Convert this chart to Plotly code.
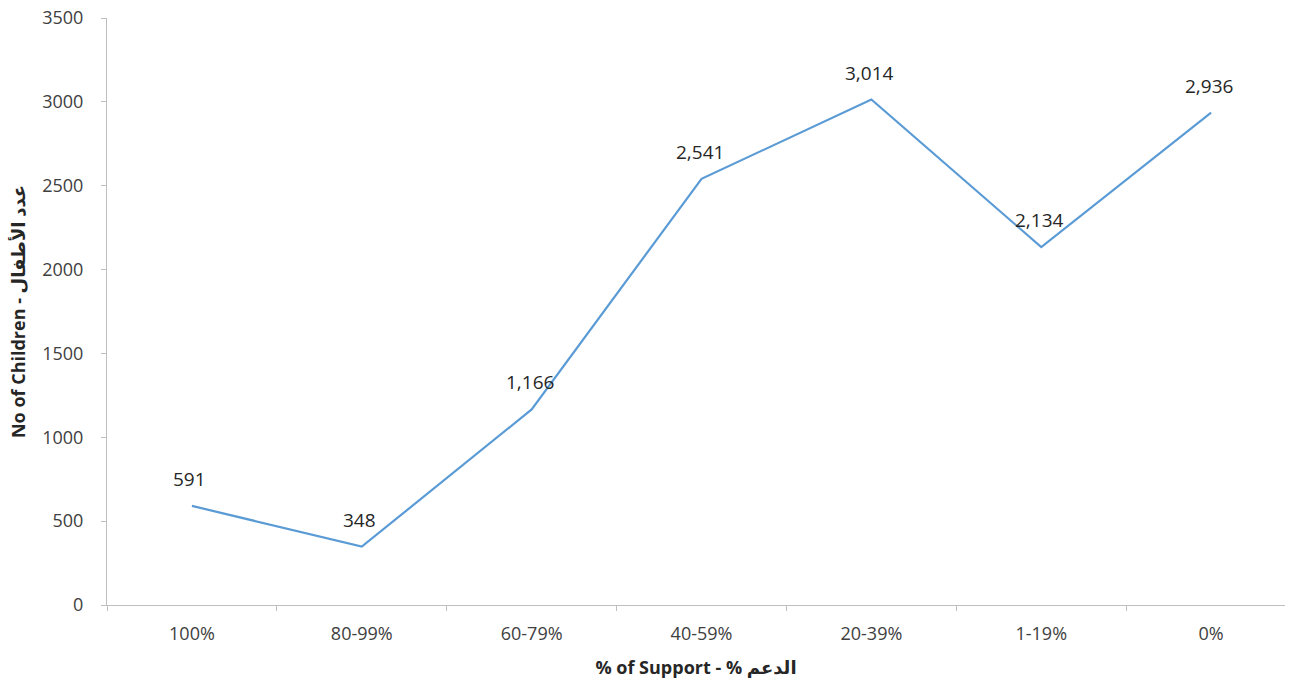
import plotly.graph_objects as go

categories = ["100%", "80-99%", "60-79%", "40-59%", "20-39%", "1-19%", "0%"]
children = [591, 348, 1166, 2541, 3014, 2134, 2936]
y_ticks = [0, 500, 1000, 1500, 2000, 2500, 3000, 3500]

FONT = "Open Sans, Liberation Sans, DejaVu Sans, sans-serif"
TXT = "#262626"

fig = go.Figure()
fig.add_trace(go.Scatter(
    x=categories, y=children, mode="lines",
    line=dict(color="#5B9BD5", width=2.2),
    hoverinfo="x+y", showlegend=False,
))

for c, v in zip(categories, children):
    fig.add_annotation(
        x=c, y=v, text=f"{v:,}", showarrow=False, yshift=27, xshift=-2,
        font=dict(family=FONT, size=19, color=TXT),
    )

fig.update_layout(
    width=1290, height=679,
    margin=dict(l=107, r=5, t=15, b=73),
    paper_bgcolor="white", plot_bgcolor="white",
    font=dict(family=FONT, color=TXT),
    xaxis=dict(
        type="category", range=[-0.5, 6.435],
        showline=True, linecolor="#bfbfbf", linewidth=1.2,
        ticks="outside", tickson="boundaries", ticklen=5, tickcolor="#bfbfbf",
        showgrid=False, zeroline=False,
        tickfont=dict(family=FONT, size=18, color="#404040"),
        ticklabelstandoff=12,
        title=dict(text="<b>% of Support - % الدعم</b>",
                   font=dict(family=FONT, size=18, color=TXT), standoff=17),
    ),
    yaxis=dict(
        range=[0, 3500], tickvals=y_ticks, ticktext=[str(t) for t in y_ticks],
        showline=True, linecolor="#bfbfbf", linewidth=1.2,
        ticks="outside", ticklen=5, tickcolor="#bfbfbf",
        showgrid=False, zeroline=False,
        tickfont=dict(family=FONT, size=18, color="#404040"),
        ticklabelstandoff=14,
        title=dict(text="<b>No of Children - عدد الأطفال</b>",
                   font=dict(family=FONT, size=18, color=TXT), standoff=11),
    ),
)

fig.write_html("out.html", config={"displayModeBar": False},
               post_script="document.body.style.margin='0';")
